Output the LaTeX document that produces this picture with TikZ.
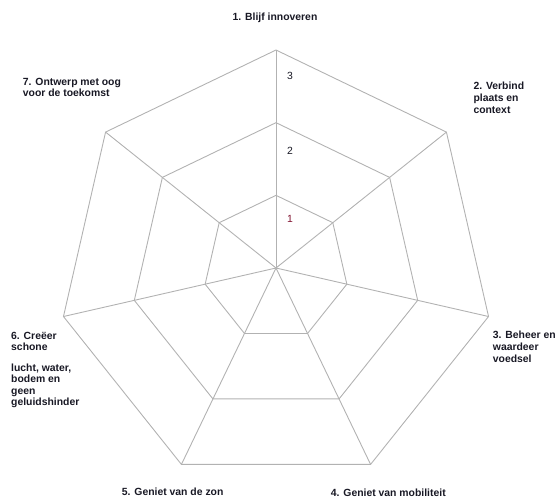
\documentclass[tikz,border=0pt]{standalone}
\usepackage{fontspec}
\setmainfont{Liberation Sans}
\usetikzlibrary{calc}
\definecolor{gridgray}{RGB}{178,178,178}
\definecolor{labeltext}{RGB}{24,24,36}
\definecolor{numred}{RGB}{130,20,50}
\tikzset{
  gridline/.style={draw=gridgray, line width=0.9pt, line join=miter},
  axislabel/.style={inner sep=0pt, anchor=base west, align=left, text=labeltext,
    font=\bfseries\fontsize{10.4}{12.2}\selectfont},
  multilabel/.style={axislabel, anchor=north west},
  levelnum/.style={inner sep=0pt, anchor=base, text=labeltext,
    font=\fontsize{10.4}{12}\selectfont}
}
\begin{document}
\begin{tikzpicture}[x=1pt,y=1pt]
\useasboundingbox (0,0) rectangle (556,-498);
\coordinate (c) at (276,-268);
% vertices
\foreach \k in {0,...,6}{
  \foreach \l/\r in {1/72.67,2/145.33,3/218}{
    \coordinate (v\l-\k) at ($(c)+({90-\k*360/7}:\r)$);
  }
}
% rings
\foreach \l in {1,2,3}{
  \draw[gridline] (v\l-0) -- (v\l-1) -- (v\l-2) -- (v\l-3) -- (v\l-4) -- (v\l-5) -- (v\l-6) -- cycle;
}
% spokes
\foreach \k in {0,...,6}{
  \draw[gridline] (c) -- (v3-\k);
}
% level numbers
\node[levelnum] (n3) at (290,-79.3) {3};
\node[levelnum] (n2) at (290,-154) {2};
\node[levelnum, text=numred] (n1) at (290,-222.7) {1};
% axis labels
\node[axislabel, anchor=base] (a1) at (275,-20.8) {1. Blijf innoveren};
\node[multilabel] (a2) at (473.3,-81.8) {2. Verbind\\plaats en\\context};
\node[multilabel] (a3) at (492.7,-330.8) {3. Beheer en\\waardeer\\voedsel};
\node[axislabel] (a4) at (330.7,-496) {4. Geniet van mobiliteit};
\node[axislabel] (a5) at (121.7,-495) {5. Geniet van de zon};
\node[multilabel, font=\bfseries\fontsize{10.4}{11.6}\selectfont] (a6) at (11,-331.8) {6. Creëer\\schone\\[8.6pt]lucht, water,\\bodem en\\geen\\geluidshinder};
\node[multilabel, font=\bfseries\fontsize{10.4}{11}\selectfont] (a7) at (22.7,-78.5) {7. Ontwerp met oog\\voor de toekomst};
\end{tikzpicture}
\end{document}
